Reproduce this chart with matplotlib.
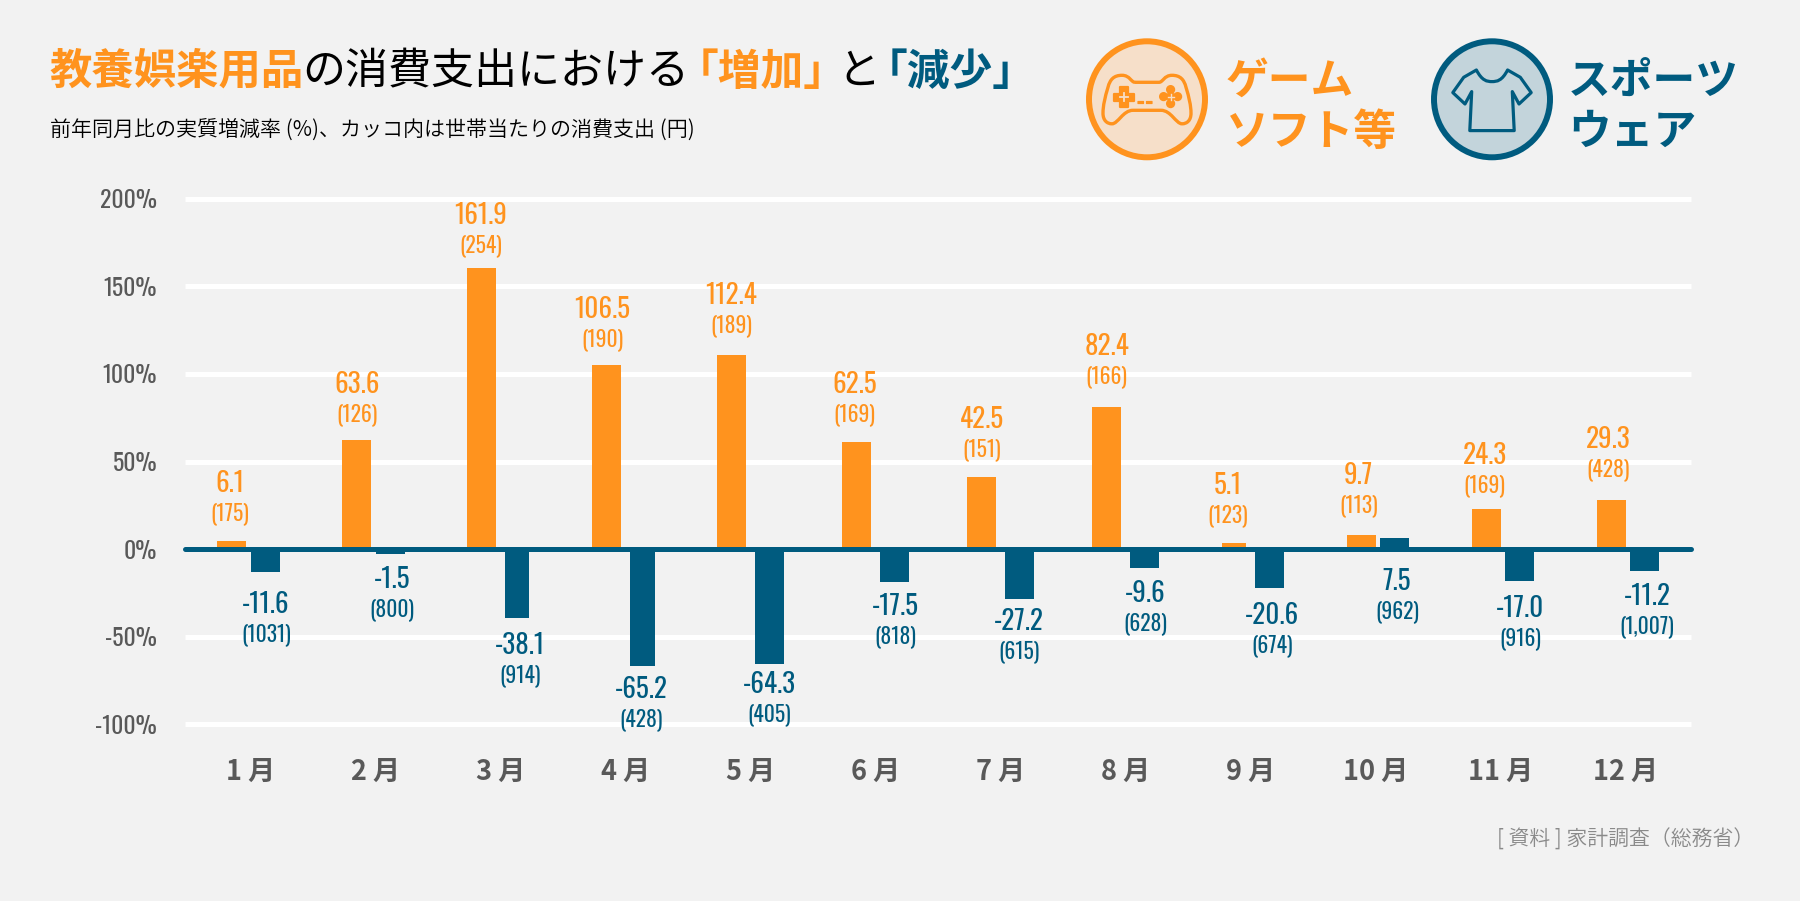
import matplotlib
matplotlib.use("Agg")
import matplotlib.pyplot as plt
from matplotlib.patches import Circle, PathPatch, FancyBboxPatch
from matplotlib.path import Path
from matplotlib.transforms import Affine2D

JP = ["Noto Sans CJK JP", "DejaVu Sans"]
NARROW = ["Oswald", "Noto Sans CJK JP", "DejaVu Sans"]

ORANGE = "#FF931E"
BLUE = "#005B7F"
BG = "#F2F2F2"
GRAY = "#595959"
ORANGE_LIGHT = "#F6DFC9"
BLUE_LIGHT = "#C3D4DB"

months = ["1 月", "2 月", "3 月", "4 月", "5 月", "6 月", "7 月", "8 月", "9 月", "10 月", "11 月", "12 月"]
game = [6.1, 63.6, 161.9, 106.5, 112.4, 62.5, 42.5, 82.4, 5.1, 9.7, 24.3, 29.3]
game_yen = ["(175)", "(126)", "(254)", "(190)", "(189)", "(169)", "(151)", "(166)", "(123)", "(113)", "(169)", "(428)"]
sports = [-11.6, -1.5, -38.1, -65.2, -64.3, -17.5, -27.2, -9.6, -20.6, 7.5, -17.0, -11.2]
sports_yen = ["(1031)", "(800)", "(914)", "(428)", "(405)", "(818)", "(615)", "(628)", "(674)", "(962)", "(916)", "(1,007)"]
yticks = [-100, -50, 0, 50, 100, 150, 200]

# hand placed labels in the original, pixel nudges from the bar end
game_dx = [-2, 1, -1, -4, 0, -2, 0, 0, -4, 2, 3, 2]
game_dy = [55, 53, 50, 53, 57, 55, 55, 58, 55, 57, 51, 58]
sports_dx = [1, 2, 5, 1, 4, 5, 4, 5, 7, 7, 5, 7]
sports_dy = [-35, -28, -30, -26, -23, -27, -25, -28, -30, -46, -30, -28]

W, H = 1800, 901
BAR_W = 0.232
BAR_OFF = 0.134
BAR_SHIFT = -2.4  # bars sit a little under the grid in the original
PAREN_GAP = 30
# the original bars are not evenly laid out: later months step right, and
# the bar where the step happens is narrower
STEP = 0.037
GAME_STEP_FROM = 8
SPORTS_STEP_FROM = 2
GAME_NARROW = [8]
SPORTS_NARROW = [2, 3]


def narrow_bars(bars, idx):
    for i in idx:
        bars[i].set_width(bars[i].get_width() - STEP)


def main():
    fig = plt.figure(figsize=(W / 100, H / 100), dpi=100, facecolor=BG)

    left, right, top, bottom = 185, 1691, 198.6, 724.4
    ax = fig.add_axes([left / W, 1 - bottom / H, (right - left) / W, (bottom - top) / H])
    ax.set_facecolor("none")
    ax.set_xlim(-0.506, 11.542)
    ax.set_ylim(-100, 200)
    for s in ax.spines.values():
        s.set_visible(False)

    ax.set_yticks(yticks)
    ax.set_yticklabels([f"{v}%" for v in yticks], family=NARROW, fontsize=17, color=GRAY)
    ax.set_xticks([i + 0.018 for i in range(12)])
    ax.set_xticklabels(months, family=JP, fontsize=19.5, fontweight="bold", color=GRAY)
    ax.tick_params(axis="y", length=0, pad=20)
    ax.tick_params(axis="x", length=0, pad=24)
    ax.grid(axis="y", color="white", lw=3.6, zorder=0)
    ax.set_axisbelow(True)
    for g in ax.yaxis.get_gridlines():
        g.set_clip_on(False)
        g.set_solid_capstyle("butt")

    shift = ax.transData + Affine2D().translate(0, BAR_SHIFT)
    x = list(range(12))
    game_x = [i - BAR_OFF + (STEP if i >= GAME_STEP_FROM else 0) for i in x]
    sports_x = [i + BAR_OFF + (STEP if i >= SPORTS_STEP_FROM else 0) for i in x]
    b1 = ax.bar(game_x, game, BAR_W, color=ORANGE, zorder=2)
    b2 = ax.bar(sports_x, sports, BAR_W, color=BLUE, zorder=2)
    narrow_bars(b1, GAME_NARROW)
    narrow_bars(b2, SPORTS_NARROW)
    for r in list(b1) + list(b2):
        r.set_transform(shift)
    ax.axhline(0, color=BLUE, lw=3.6, solid_capstyle="round", zorder=3, clip_on=False)

    for i in x:
        for val, yen, off, dx, dy, col in (
            (game[i], game_yen[i], -BAR_OFF, game_dx[i], game_dy[i], ORANGE),
            (sports[i], sports_yen[i], BAR_OFF, sports_dx[i], sports_dy[i], BLUE),
        ):
            ax.annotate(f"{val:.1f}", (i + off, val), xytext=(dx, dy), textcoords="offset pixels",
                        ha="center", va="center", family=NARROW, fontsize=19.5, color=col, zorder=4)
            ax.annotate(yen, (i + off, val), xytext=(dx, dy - PAREN_GAP), textcoords="offset pixels",
                        ha="center", va="center", family=NARROW, fontsize=15.5, color=col, zorder=4)

    # overlay in pixel coordinates for the header and icons
    ov = fig.add_axes([0, 0, 1, 1], facecolor="none")
    ov.set_xlim(0, W)
    ov.set_ylim(H, 0)
    ov.axis("off")

    title = [
        (49.5, "教養娯楽用品", ORANGE, 700, 30.5),
        (302, "の消費支出における", "black", 400, 31),
        (676, "「増加」", ORANGE, 700, 30.8),
        (837, "と", "black", 400, 30.8),
        (864.5, "「減少」", BLUE, 700, 30.8),
    ]
    for tx, s, col, wt, fs in title:
        ov.text(tx, 72, s, family=JP, fontsize=fs, color=col, fontweight=wt, ha="left", va="center")
    ov.text(50, 131, "前年同月比の実質増減率 (%)、カッコ内は世帯当たりの消費支出 (円)",
            family=JP, fontsize=15.15, fontweight=350, color="black", ha="left", va="center")

    ov.text(1754, 840, "[ 資料 ] 家計調査（総務省）", family=JP, fontsize=15, fontweight=350,
            color="#8A8A8A", ha="right", va="center")

    # legend icons
    cy = 99.3
    ov.add_patch(Circle((1147, cy), 58, fc=ORANGE_LIGHT, ec=ORANGE, lw=4.3))
    ov.add_patch(Circle((1492, cy), 58, fc=BLUE_LIGHT, ec=BLUE, lw=4.3))
    draw_gamepad(ov, 1147, cy)
    draw_shirt(ov, 1492, cy)

    legend = [
        (1226, 81, "ゲーム", ORANGE),
        (1226, 132, "ソフト等", ORANGE),
        (1568, 81, "スポーツ", BLUE),
        (1568, 132, "ウェア", BLUE),
    ]
    for tx, ty, s, col in legend:
        ov.text(tx, ty, s, family=JP, fontsize=30.8, fontweight=700, color=col, ha="left", va="center")

    fig.savefig("out.png", dpi=100, facecolor=BG)


def draw_shirt(ov, cx, cy):
    half = [(28.3, -22), (39.2, -6.7), (27, 4.7), (20.3, -7.7), (22.2, 31.3)]
    verts = [(-15.6, -29.3), (-10, -18.5), (-5, -17.7), (0, -17.7), (5, -17.7), (10, -18.5), (15.6, -29.3)]
    codes = [Path.MOVETO] + [Path.CURVE4] * 6
    for p in half:
        verts.append(p)
        codes.append(Path.LINETO)
    for p in reversed(half):
        verts.append((-p[0], p[1]))
        codes.append(Path.LINETO)
    verts.append(verts[0])
    codes.append(Path.CLOSEPOLY)
    path = Path([(cx + a, cy + b) for a, b in verts], codes)
    ov.add_patch(PathPatch(path, fc="none", ec=BLUE, lw=2.3, joinstyle="round"))


def draw_gamepad(ov, cx, cy):
    verts = [
        (-12, -17), (12, -17),
        (16, -17), (17, -24), (25, -24),
        (33, -24), (37, -20), (39, -12),
        (42, -2), (44, 6), (44, 14),
        (44, 21), (40, 24.5), (35, 24.5),
        (29, 24.5), (24, 11), (14, 11),
        (-14, 11),
        (-24, 11), (-29, 24.5), (-35, 24.5),
        (-40, 24.5), (-44, 21), (-44, 14),
        (-44, 6), (-42, -2), (-39, -12),
        (-37, -20), (-33, -24), (-25, -24),
        (-17, -24), (-16, -17), (-12, -17),
    ]
    codes = [Path.MOVETO, Path.LINETO] + [Path.CURVE4] * 15 + [Path.LINETO] + [Path.CURVE4] * 15
    path = Path([(cx + a, cy + b) for a, b in verts], codes)
    ov.add_patch(PathPatch(path, fc="none", ec=ORANGE, lw=2.4))

    # d-pad
    px, py = cx - 23, cy - 2
    a, b = 10, 3.8
    plus = [(-b, -a), (b, -a), (b, -b), (a, -b), (a, b), (b, b), (b, a), (-b, a), (-b, b), (-a, b), (-a, -b), (-b, -b), (-b, -a)]
    ov.add_patch(PathPatch(Path([(px + u, py + v) for u, v in plus], closed=True),
                           fc=ORANGE, ec=ORANGE, lw=1.6, joinstyle="round"))
    ov.plot([px - 4, px + 4], [py, py], color=ORANGE_LIGHT, lw=1.3)
    ov.plot([px, px], [py - 4, py + 4], color=ORANGE_LIGHT, lw=1.3)

    # buttons
    bx, by = cx + 23.6, cy - 2.7
    for u, v in [(0, -7), (0, 7), (-7, 0), (7, 0), (0, 0)]:
        ov.add_patch(Circle((bx + u, by + v), 4.6, fc=ORANGE, ec="none"))
    ov.plot([bx - 3, bx + 3], [by, by], color=ORANGE_LIGHT, lw=1)
    ov.plot([bx, bx], [by - 3, by + 3], color=ORANGE_LIGHT, lw=1)

    # select / start
    for u in (-9, -0.5):
        ov.add_patch(FancyBboxPatch((cx + u, cy + 2.2), 5.5, 2, boxstyle="round,pad=0.6", fc=ORANGE, ec="none"))


if __name__ == "__main__":
    main()
